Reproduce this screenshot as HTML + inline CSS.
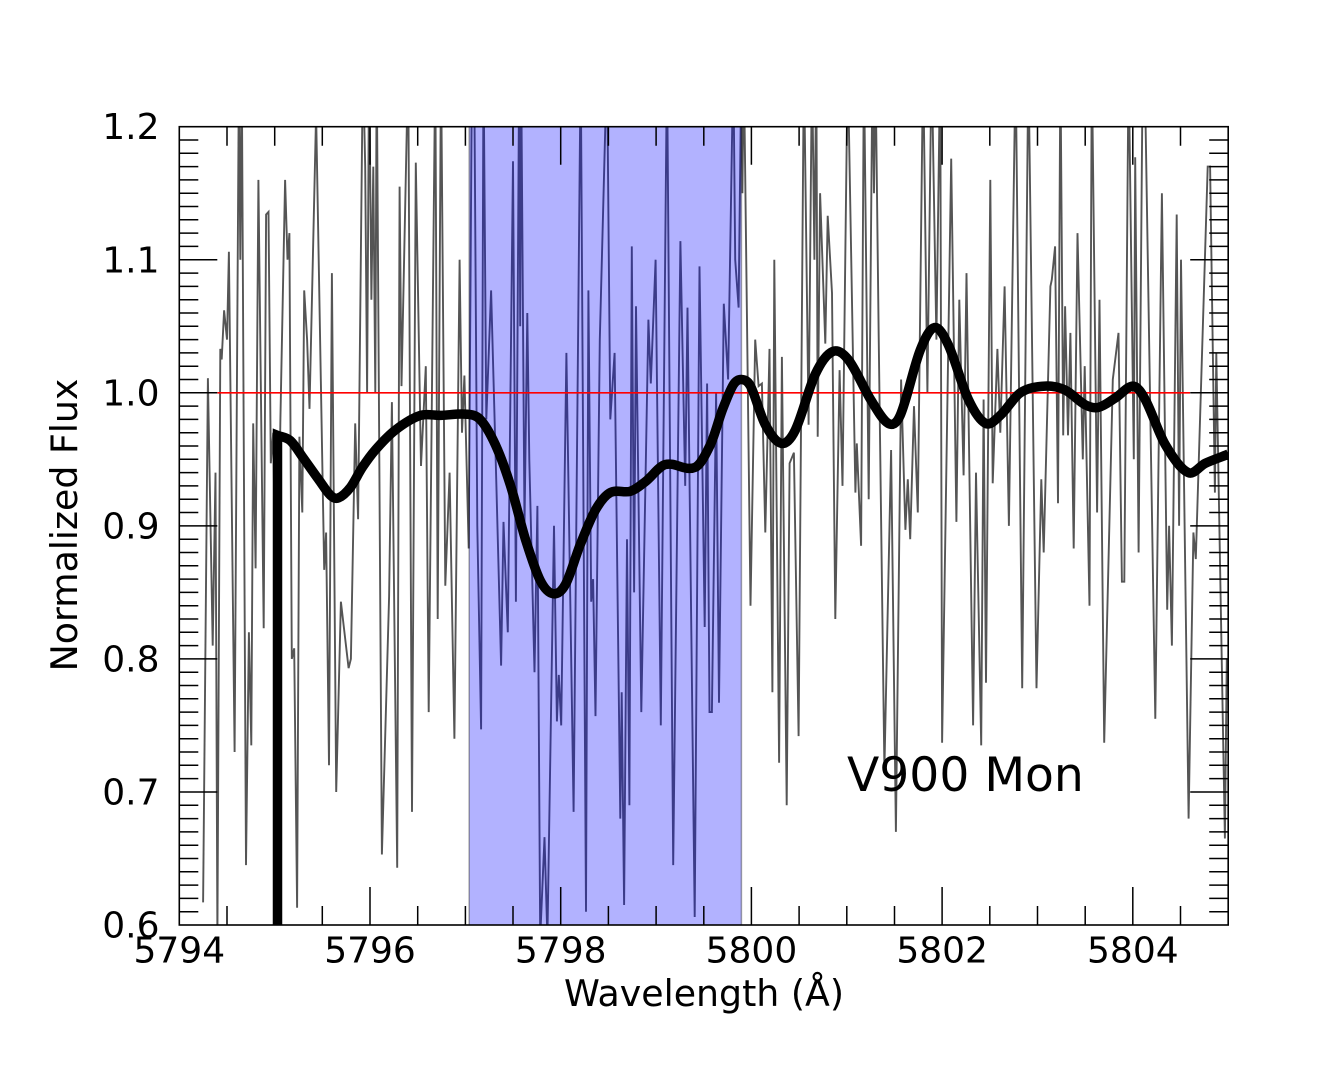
<!DOCTYPE html>
<html lang="en">
<head>
<meta charset="utf-8">
<title>V900 Mon Normalized Flux</title>
<style>
  html, body { margin: 0; padding: 0; background: #fff; }
  #chart { display: block; width: 1333px; height: 1066px; }
  text { font-family: "DejaVu Sans", "Liberation Sans", sans-serif; fill: #000; }
</style>
</head>
<body>
<svg id="chart" xmlns="http://www.w3.org/2000/svg" width="1333" height="1066" viewBox="0 0 1333 1066">
  <defs>
    <clipPath id="plot-clip"><rect x="179.3" y="126.7" width="1048.9" height="798.3"/></clipPath>
  </defs>
  <g id="marks" clip-path="url(#plot-clip)"></g>
  <g id="ticks"></g>
  <rect x="179.3" y="126.7" width="1048.9" height="798.3" fill="none" stroke="#000" stroke-width="1.6"/>
  <g id="labels"></g>
  <text x="704" y="1006" text-anchor="middle" font-size="36.3">Wavelength (Å)</text>
  <text transform="translate(77 525) rotate(-90)" text-anchor="middle" font-size="36.3">Normalized Flux</text>
  <text x="847" y="791" font-size="47.2">V900 Mon</text>
</svg>
<script>
// Axis limits and tick values
const xDomain = [5794, 5805];
const yDomain = [0.6, 1.2];
const xMajorTicks = [5794, 5796, 5798, 5800, 5802, 5804];
const xTickLabels = ["5794", "5796", "5798", "5800", "5802", "5804"];
const yMajorTicks = [0.6, 0.7, 0.8, 0.9, 1.0, 1.1, 1.2];
const yTickLabels = ["0.6", "0.7", "0.8", "0.9", "1.0", "1.1", "1.2"];

// Shaded wavelength band and continuum level
const bandRange = [5797.04, 5799.895];
const continuumLevel = 1.0;
const continuumRange = [5794.4, 5804.6];

// Observed spectrum: wavelength (Å above 5794) and normalized flux
const spectrumOffset = [0.25,0.30,0.35,0.38,0.40,0.43,0.445,0.47,0.50,0.52,0.58,0.625,0.64,0.655,0.70,0.73,0.755,0.775,0.80,0.83,0.885,0.91,0.935,0.96,0.985,1.02,1.06,1.11,1.135,1.155,1.18,1.205,1.235,1.26,1.29,1.31,1.34,1.365,1.435,1.52,1.54,1.57,1.60,1.645,1.695,1.775,1.80,1.845,1.875,1.925,1.95,1.97,1.99,2.015,2.035,2.055,2.07,2.125,2.20,2.23,2.285,2.31,2.33,2.40,2.44,2.48,2.535,2.585,2.615,2.685,2.71,2.745,2.79,2.835,2.885,2.94,2.965,2.99,3.035,3.07,3.095,3.125,3.165,3.19,3.22,3.27,3.325,3.375,3.40,3.445,3.50,3.53,3.565,3.575,3.585,3.62,3.65,3.67,3.725,3.755,3.785,3.83,3.86,3.93,3.96,3.98,4.005,4.06,4.135,4.21,4.265,4.29,4.32,4.34,4.365,4.41,4.485,4.52,4.565,4.625,4.64,4.665,4.695,4.72,4.745,4.77,4.79,4.845,4.92,4.945,4.995,5.05,5.115,5.18,5.255,5.305,5.33,5.405,5.455,5.51,5.535,5.56,5.585,5.63,5.66,5.71,5.755,5.81,5.83,5.865,5.895,5.905,5.92,5.99,6.04,6.075,6.11,6.145,6.19,6.22,6.24,6.29,6.32,6.37,6.40,6.445,6.495,6.55,6.60,6.635,6.66,6.68,6.695,6.72,6.775,6.80,6.845,6.88,6.925,6.955,7.01,7.09,7.105,7.15,7.18,7.23,7.27,7.285,7.30,7.335,7.395,7.465,7.515,7.57,7.615,7.64,7.665,7.705,7.745,7.80,7.845,7.89,7.94,7.98,8.00,8.095,8.15,8.18,8.225,8.255,8.325,8.355,8.41,8.435,8.46,8.505,8.53,8.58,8.61,8.655,8.70,8.77,8.84,8.905,8.99,9.04,9.065,9.135,9.15,9.185,9.215,9.24,9.27,9.29,9.32,9.345,9.38,9.42,9.475,9.495,9.545,9.57,9.625,9.65,9.70,9.79,9.85,9.885,9.91,9.955,10.01,10.025,10.06,10.10,10.13,10.235,10.305,10.36,10.38,10.41,10.46,10.485,10.505,10.585,10.635,10.66,10.785,10.81,10.86,10.875,10.965,10.985];
const spectrumFlux = [0.617,1.011,0.81,0.94,0.59,1.033,1.025,1.062,1.04,1.106,0.73,1.24,1.1,1.24,0.645,0.82,0.735,0.977,0.868,1.16,0.823,1.134,1.136,0.947,0.97,0.80,0.98,1.16,1.1,1.12,0.80,0.808,0.613,0.967,0.91,1.077,1.04,0.988,1.21,0.867,0.895,0.72,1.09,0.70,0.843,0.793,0.80,0.977,0.905,1.25,1.17,1.0,1.25,1.07,1.17,1.0,1.25,0.653,0.847,0.993,0.643,1.155,1.005,1.25,0.685,1.173,0.945,1.02,0.76,1.25,0.83,1.25,0.855,0.94,0.74,1.10,0.97,1.013,0.883,1.25,1.22,0.9,0.747,1.25,0.98,1.077,0.93,0.795,0.903,0.82,1.174,0.843,1.25,1.05,1.25,0.9,1.06,0.95,0.79,0.915,0.59,0.666,0.59,0.90,0.753,0.788,0.75,1.03,0.685,1.25,0.61,1.077,0.843,0.86,0.757,1.04,1.25,0.98,1.03,0.68,0.775,0.615,0.89,0.69,1.11,0.85,1.065,0.76,1.055,1.007,1.10,0.75,1.25,0.645,1.114,0.93,1.064,0.606,1.095,0.824,1.007,0.76,0.76,1.0,0.767,1.067,1.01,1.25,1.1,1.064,1.25,1.15,1.25,0.84,1.04,1.005,1.007,0.895,1.033,0.775,1.10,0.722,1.027,0.69,0.947,0.955,0.742,1.25,0.976,1.25,1.1,1.25,0.967,1.15,1.037,1.133,1.075,0.83,1.017,0.93,1.25,0.925,0.962,0.885,1.25,0.92,1.25,1.15,1.25,1.042,0.717,0.957,0.67,1.01,0.897,0.935,0.89,0.99,0.91,1.25,1.0,1.25,1.04,1.25,0.737,1.176,0.903,1.07,0.938,1.09,0.75,0.94,0.735,0.995,0.782,1.16,0.932,1.033,0.97,1.08,0.9,1.25,0.778,1.25,0.778,0.935,0.88,1.08,1.085,1.11,0.917,1.25,0.968,1.065,0.968,1.045,0.883,1.12,0.95,1.02,0.84,1.25,0.91,1.07,0.737,1.01,1.045,0.858,0.858,1.25,0.95,1.177,0.88,1.22,1.22,0.755,1.15,0.837,0.9,0.81,1.134,0.9,1.1,0.68,0.895,0.875,1.17,1.17,0.925,1.03,0.665,0.8];

// Smoothed spectrum: wavelength (Å above 5794) and normalized flux
const smoothOffset = [1.03,1.03,1.165,1.30,1.46,1.585,1.67,1.795,1.92,2.055,2.265,2.53,2.74,3.0,3.155,3.315,3.47,3.63,3.785,3.92,4.05,4.205,4.365,4.52,4.73,4.885,5.095,5.41,5.57,5.695,5.81,5.895,5.99,6.145,6.315,6.46,6.67,6.85,7.015,7.25,7.435,7.56,7.77,7.92,8.065,8.275,8.455,8.61,8.82,9.08,9.29,9.50,9.64,9.815,10.005,10.13,10.34,10.58,10.76,10.97,11.0];
const smoothFlux = [0.5,0.968,0.964,0.951,0.935,0.923,0.921,0.929,0.944,0.957,0.972,0.983,0.983,0.984,0.98,0.961,0.931,0.89,0.859,0.849,0.856,0.886,0.912,0.925,0.926,0.933,0.946,0.944,0.961,0.987,1.006,1.01,1.005,0.976,0.962,0.972,1.014,1.031,1.025,0.995,0.977,0.983,1.032,1.049,1.036,0.995,0.977,0.983,1.0,1.005,1.002,0.991,0.989,0.996,1.005,0.995,0.961,0.94,0.947,0.953,0.954];

const plot = { left: 179.3, right: 1228.2, top: 126.7, bottom: 925 };
const NS = 'http://www.w3.org/2000/svg';

function xScale(w) {
  return plot.left + (w - xDomain[0]) / (xDomain[1] - xDomain[0]) * (plot.right - plot.left);
}
function yScale(f) {
  return plot.bottom - (f - yDomain[0]) / (yDomain[1] - yDomain[0]) * (plot.bottom - plot.top);
}
function make(tag, parent) {
  const el = document.createElementNS(NS, tag);
  parent.appendChild(el);
  return el;
}

const marks = document.getElementById('marks');
const ticks = document.getElementById('ticks');
const labels = document.getElementById('labels');

// Noisy observed spectrum
const spectrumPts = spectrumOffset.map((o, i) => xScale(xDomain[0] + o).toFixed(1) + ',' + yScale(spectrumFlux[i]).toFixed(1));
const spectrum = make('polyline', marks);


spectrum.setAttribute('points', spectrumPts.join(' '));
spectrum.setAttribute('fill', 'none');
spectrum.setAttribute('stroke', '#555555');
spectrum.setAttribute('stroke-width', '1.9');
spectrum.setAttribute('stroke-linejoin', 'miter');
spectrum.setAttribute('stroke-miterlimit', '3');

// Shaded band, on top of the spectrum
const band = make('rect', marks);


band.setAttribute('x', xScale(bandRange[0]));
band.setAttribute('width', xScale(bandRange[1]) - xScale(bandRange[0]));
band.setAttribute('y', plot.top - 5);
band.setAttribute('height', plot.bottom - plot.top + 10);
band.setAttribute('fill', 'rgb(0,0,255)');
band.setAttribute('fill-opacity', '0.3');
band.setAttribute('stroke', 'rgba(0,0,0,0.35)');
band.setAttribute('stroke-width', '1.5');

// Continuum reference line
const continuum = make('line', marks);


continuum.setAttribute('x1', xScale(continuumRange[0]));
continuum.setAttribute('x2', xScale(continuumRange[1]));
continuum.setAttribute('y1', yScale(continuumLevel));
continuum.setAttribute('y2', yScale(continuumLevel));
continuum.setAttribute('stroke', '#ff0000');
continuum.setAttribute('stroke-width', '1.7');

// Smoothed spectrum: straight rising stem, then a cubic curve with x-scaled tangents
const sx = smoothOffset.map(o => xScale(xDomain[0] + o));
const sy = smoothFlux.map(f => yScale(f));
function slopeAt(i) {
  if (i <= 1) return (sy[2] - sy[1]) / (sx[2] - sx[1]);
  if (i >= sx.length - 1) return (sy[i] - sy[i - 1]) / (sx[i] - sx[i - 1]);
  return (sy[i + 1] - sy[i - 1]) / (sx[i + 1] - sx[i - 1]);
}
let smoothPath = 'M' + sx[0].toFixed(1) + ' ' + sy[0].toFixed(1) + 'L' + sx[1].toFixed(1) + ' ' + sy[1].toFixed(1);
for (let i = 1; i < sx.length - 1; i++) {
  const h = sx[i + 1] - sx[i];
  const c1x = sx[i] + h / 3;
  const c1y = sy[i] + slopeAt(i) * h / 3;
  const c2x = sx[i + 1] - h / 3;
  const c2y = sy[i + 1] - slopeAt(i + 1) * h / 3;
  smoothPath += 'C' + c1x.toFixed(1) + ' ' + c1y.toFixed(1) + ' ' + c2x.toFixed(1) + ' ' + c2y.toFixed(1) + ' ' + sx[i + 1].toFixed(1) + ' ' + sy[i + 1].toFixed(1);
}
const smooth = make('path', marks);


smooth.setAttribute('d', smoothPath);
smooth.setAttribute('fill', 'none');
smooth.setAttribute('stroke', '#000000');
smooth.setAttribute('stroke-width', '9.5');
smooth.setAttribute('stroke-linejoin', 'miter');

// Tick marks on all four sides
let tickPath = '';
const xMinorCount = Math.round((xDomain[1] - xDomain[0]) / 0.5);
for (let i = 1; i < xMinorCount; i++) {
  const w = xDomain[0] + i * 0.5;
  const len = xMajorTicks.includes(w) ? 38 : 19;
  const x = xScale(w).toFixed(1);
  tickPath += 'M' + x + ' ' + plot.bottom + 'v-' + len + 'M' + x + ' ' + plot.top + 'v' + len;
}
const yMinorCount = Math.round((yDomain[1] - yDomain[0]) / 0.01);
for (let i = 1; i < yMinorCount; i++) {
  const len = i % 10 === 0 ? 38 : 19;
  const y = yScale(yDomain[0] + i * 0.01).toFixed(1);
  tickPath += 'M' + plot.left + ' ' + y + 'h' + len + 'M' + plot.right + ' ' + y + 'h-' + len;
}
const tickMarks = make('path', ticks);


tickMarks.setAttribute('d', tickPath);
tickMarks.setAttribute('stroke', '#000');
tickMarks.setAttribute('stroke-width', '1.5');
tickMarks.setAttribute('fill', 'none');

// Tick labels
xMajorTicks.forEach((w, i) => {
  const t = make('text', labels);
  
  
  t.setAttribute('x', xScale(w));
  t.setAttribute('y', 962.7);
  t.setAttribute('text-anchor', 'middle');
  t.setAttribute('font-size', '36');
  t.textContent = xTickLabels[i];
});
yMajorTicks.forEach((f, i) => {
  const t = make('text', labels);
  
  
  t.setAttribute('x', 159.5);
  t.setAttribute('y', yScale(f) + 12.5);
  t.setAttribute('text-anchor', 'end');
  t.setAttribute('font-size', '36');
  t.textContent = yTickLabels[i];
});
</script>
</body>
</html>
